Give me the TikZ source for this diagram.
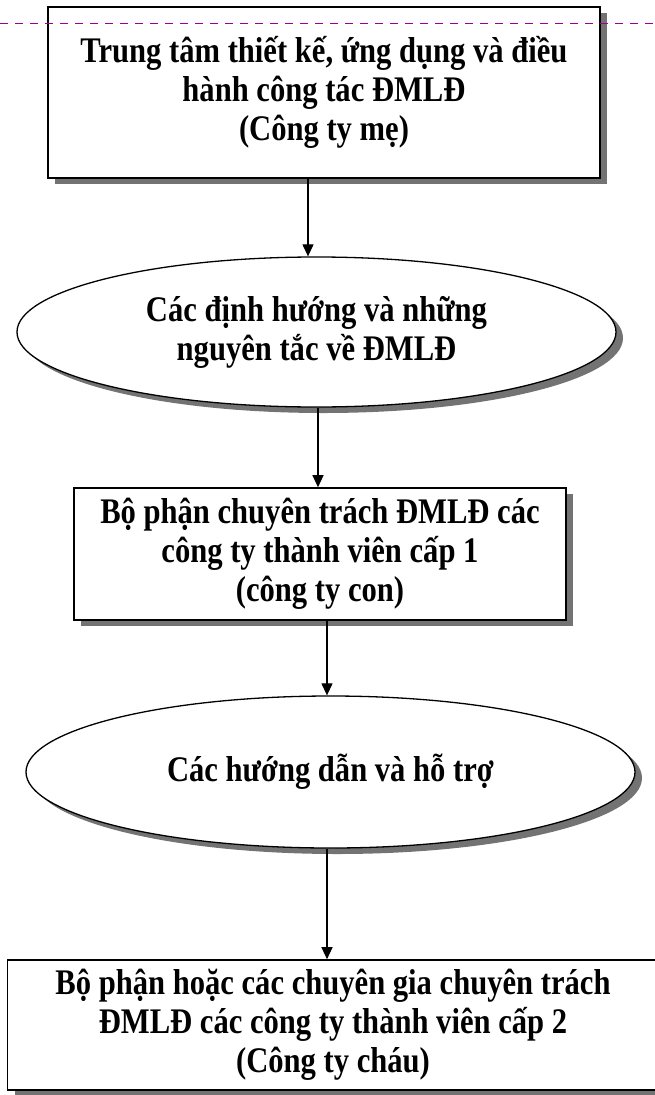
\documentclass[tikz,border=0pt]{standalone}
\usepackage{fontspec}
\setmainfont{Liberation Serif}[FakeStretch=0.85]
\usetikzlibrary{arrows.meta,shapes.geometric,shadows}
\definecolor{hdrline}{RGB}{153,0,153}

\begin{document}
\begin{tikzpicture}[x=1pt,y=-1pt,>={Triangle[length=12pt,width=11pt]},font=\fontsize{36}{39}\selectfont\bfseries,
 shd/.style={drop shadow={shadow xshift=7pt,shadow yshift=-6pt,fill=black!55,opacity=1}},
 box/.style={draw,line width=1.6pt,fill=white,align=center,inner sep=0pt,shd},
 oval/.style={draw,line width=1.3pt,fill=white,ellipse,align=center,inner sep=0pt,shd}]
 \useasboundingbox (0,0) rectangle (654,1095);
 \node[box,minimum width=552pt,minimum height=171pt] (c) at(324,92.5){Trung tâm thiết kế, ứng dụng và điều\\hành công tác ĐMLĐ\\(Công ty mẹ)};
 \node[oval,minimum width=599pt,minimum height=150pt] (o) at(316.5,332){Các định hướng và những\\nguyên tắc về ĐMLĐ};
 \node[box,minimum width=492pt,minimum height=132pt] (b1) at(320,554){Bộ phận chuyên trách ĐMLĐ các\\công ty thành viên cấp 1\\(công ty con)};
 \node[oval,minimum width=609pt,minimum height=152pt] (h) at(330.5,772){Các hướng dẫn và hỗ trợ};
 \node[box,minimum width=651pt,minimum height=130pt] (b2) at(333,1025){Bộ phận hoặc các chuyên gia chuyên trách\\ĐMLĐ các công ty thành viên cấp 2\\(Công ty cháu)};
 \draw[->,line width=1.2pt] ([xshift=-16pt]c.south)--([xshift=-16pt]c.south |- o.north);
 \draw[->,line width=1.2pt] ([xshift=1.5pt]o.south)--([xshift=1.5pt]o.south |- b1.north);
 \draw[->,line width=1.2pt] ([xshift=7pt]b1.south)--([xshift=7pt]b1.south |- h.north);
 \draw[->,line width=1.2pt] ([xshift=-3.5pt]h.south)--([xshift=-3.5pt]h.south |- b2.north);
 \draw[hdrline,line width=1pt,dash pattern=on 8pt off 7pt] (0,23)--(654,23);
\end{tikzpicture}
\end{document}
